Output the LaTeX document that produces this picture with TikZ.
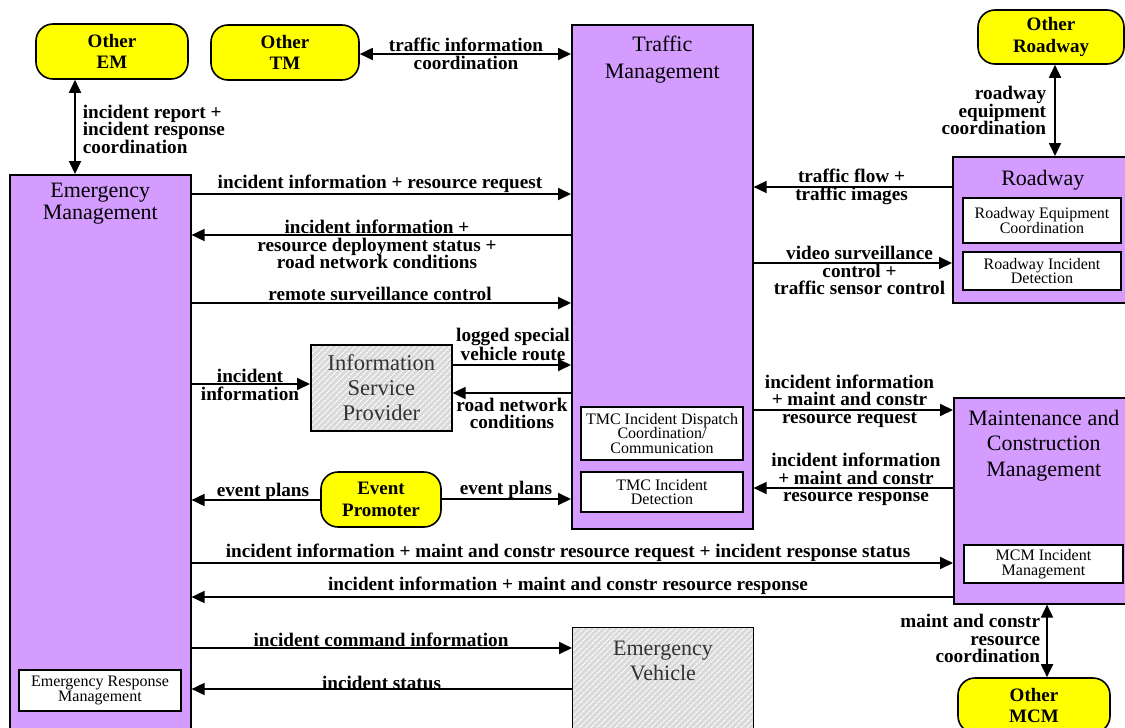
\documentclass[tikz,border=0pt]{standalone}
\usepackage{fontspec}
\setmainfont{Liberation Serif}
\usetikzlibrary{arrows.meta,patterns.meta}
\definecolor{purp}{RGB}{212,156,255}
\definecolor{ylw}{RGB}{255,255,0}
\definecolor{hatchbg}{RGB}{218,218,218}
\tikzset{
  pbox/.style={draw, line width=1.6pt, fill=purp, anchor=north west, inner sep=0pt},
  ttl/.style={font=\fontsize{22}{24}\selectfont, align=center, anchor=north, inner sep=0pt},
  ibox/.style={draw, line width=1.3pt, fill=white, align=center, inner sep=0pt,
    font=\fontsize{16}{14.8}\selectfont},
  ybox/.style={draw, line width=1.6pt, fill=ylw, rounded corners=17pt, align=center, inner sep=0pt,
    font=\bfseries\fontsize{19}{21.5}\selectfont},
  hbox/.style={draw, line width=1.6pt, anchor=north west, inner sep=0pt,
    preaction={fill=hatchbg}, pattern={Lines[angle=45,distance=4pt,line width=0.9pt]}, pattern color=white},
  lab/.style={font=\bfseries\fontsize{19.2}{17.5}\selectfont, align=center, inner sep=0pt},
  arr/.style={line width=1.8pt, -{Triangle[length=13pt,width=12pt]}},
  darr/.style={line width=1.8pt, {Triangle[length=13pt,width=12pt]}-{Triangle[length=13pt,width=12pt]}}
}
\begin{document}
\begin{tikzpicture}[x=1pt,y=-1pt]
\clip (0,0) rectangle (1125,728);
\useasboundingbox (0,0) rectangle (1125,728);

% main boxes
\node[pbox, minimum width=181pt, minimum height=600pt,
  label={[ttl, yshift=-9pt, text depth=0pt, font=\fontsize{22}{21.5}\selectfont]north:Emergency\\Management}] (EM) at (9,174) {};
\node[pbox, minimum width=181pt, minimum height=504pt,
  label={[ttl, yshift=-12pt, font=\fontsize{22}{26.5}\selectfont]north:Traffic\\Management}] (TM) at (571,24) {};
\node[pbox, minimum width=180pt, minimum height=146pt,
  label={[ttl, yshift=-14pt]north:Roadway}] (RW) at (952,156) {};
\node[pbox, minimum width=180pt, minimum height=206pt,
  label={[ttl, yshift=-13pt, font=\fontsize{22}{25.5}\selectfont]north:Maintenance and\\Construction\\Management}] (MCM) at (953,397) {};
\node[hbox, minimum width=181pt, minimum height=140pt,
  label={[ttl, yshift=-14pt, font=\fontsize{22}{25}\selectfont, text=black!80]north:Emergency\\Vehicle}] (EV) at (572,627) {};
\node[hbox, minimum width=141pt, minimum height=86pt, font=\fontsize{22.5}{25}\selectfont, text=black!80, align=center] (ISP) at (310,344) {Information\\Service\\Provider};

% inner boxes
\node[ibox, minimum width=162pt, minimum height=53pt] (TMCD) at (662,433.5) {TMC Incident Dispatch\\Coordination/\\Communication};
\node[ibox, minimum width=162pt, minimum height=40pt] (TMCI) at (662,492) {TMC Incident\\Detection};
\node[ibox, minimum width=158pt, minimum height=45pt] (REC) at (1042,220.5) {Roadway Equipment\\Coordination};
\node[ibox, minimum width=158pt, minimum height=38pt] (RID) at (1042,271) {Roadway Incident\\Detection};
\node[ibox, minimum width=159pt, minimum height=38pt] (MCMI) at (1043.5,564) {MCM Incident\\Management};
\node[ibox, minimum width=162pt, minimum height=41pt] (ERM) at (100,690.5) {Emergency Response\\Management};

% yellow terminators
\node[ybox, minimum width=152pt, minimum height=55pt] (OEM) at (112,51.5) {Other\\EM};
\node[ybox, minimum width=148pt, minimum height=55pt] (OTM) at (285,52.5) {Other\\TM};
\node[ybox, minimum width=146pt, minimum height=54pt] (ORW) at (1051,37) {Other\\Roadway};
\node[ybox, minimum width=120pt, minimum height=55pt] (EP) at (381,499.5) {Event\\Promoter};
\node[ybox, minimum width=152pt, minimum height=55pt] (OMCM) at (1034,705.5) {Other\\MCM};

% connectors
\draw[darr] (OEM.south -| 75,0) -- (EM.north -| 75,0)
  node[lab, align=left, anchor=west] at (82,129) {incident report +\\incident response\\coordination};
\draw[darr] (OTM.east |- 0,54) -- (TM.west |- 0,54)
  node[lab] at (466,54) {traffic information\\coordination};
\draw[arr] (EM.east |- 0,194) -- (TM.west |- 0,194)
  node[lab] at (380,184) {incident information + resource request};
\draw[arr] (TM.west |- 0,235) -- (EM.east |- 0,235)
  node[lab] at (377,244.5) {incident information +\\resource deployment status +\\road network conditions};
\draw[arr] (EM.east |- 0,303) -- (TM.west |- 0,303)
  node[lab] at (380,294) {remote surveillance control};
\draw[arr] (EM.east |- 0,384) -- (ISP.west |- 0,384)
  node[lab] at (250,385) {incident\\information};
\draw[arr] (ISP.east |- 0,365) -- (TM.west |- 0,365)
  node[lab] at (513,344.5) {logged special\\vehicle route};
\draw[arr] (TM.west |- 0,393) -- (ISP.east |- 0,393)
  node[lab] at (512,413.5) {road network\\conditions};
\draw[arr] (EP.west |- 0,500) -- (EM.east |- 0,500)
  node[lab] at (263,492) {event plans};
\draw[arr] (EP.east |- 0,499) -- (TM.west |- 0,499)
  node[lab] at (506,490) {event plans};
\draw[arr] (EM.east |- 0,563) -- (MCM.west |- 0,563)
  node[lab] at (568,553) {incident information + maint and constr resource request + incident response status};
\draw[arr] (MCM.west |- 0,597) -- (EM.east |- 0,597)
  node[lab] at (568,586) {incident information + maint and constr resource response};
\draw[arr] (EM.east |- 0,648) -- (EV.west |- 0,648)
  node[lab] at (381,640) {incident command information};
\draw[arr] (EV.west |- 0,689) -- (EM.east |- 0,689)
  node[lab] at (381.5,683) {incident status};
\draw[arr] (RW.west |- 0,187) -- (TM.east |- 0,187)
  node[lab] at (851.5,187) {traffic flow +\\traffic images};
\draw[arr] (TM.east |- 0,263) -- (RW.west |- 0,263)
  node[lab] at (859.5,270.5) {video surveillance\\control +\\traffic sensor control};
\draw[darr] (ORW.south -| 1055,0) -- (RW.north -| 1055,0)
  node[lab, align=right, anchor=east] at (1047,110.5) {roadway\\equipment\\coordination};
\draw[arr] (TM.east |- 0,410) -- (MCM.west |- 0,410)
  node[lab] at (849.5,401) {incident information\\+ maint and constr\\resource request};
\draw[arr] (MCM.west |- 0,488) -- (TM.east |- 0,488)
  node[lab] at (856,479.5) {incident information\\+ maint and constr\\resource response};
\draw[darr] (MCM.south -| 1047,0) -- (OMCM.north -| 1047,0)
  node[lab, align=right, anchor=east] at (1041,638.5) {maint and constr\\resource\\coordination};
\end{tikzpicture}
\end{document}
